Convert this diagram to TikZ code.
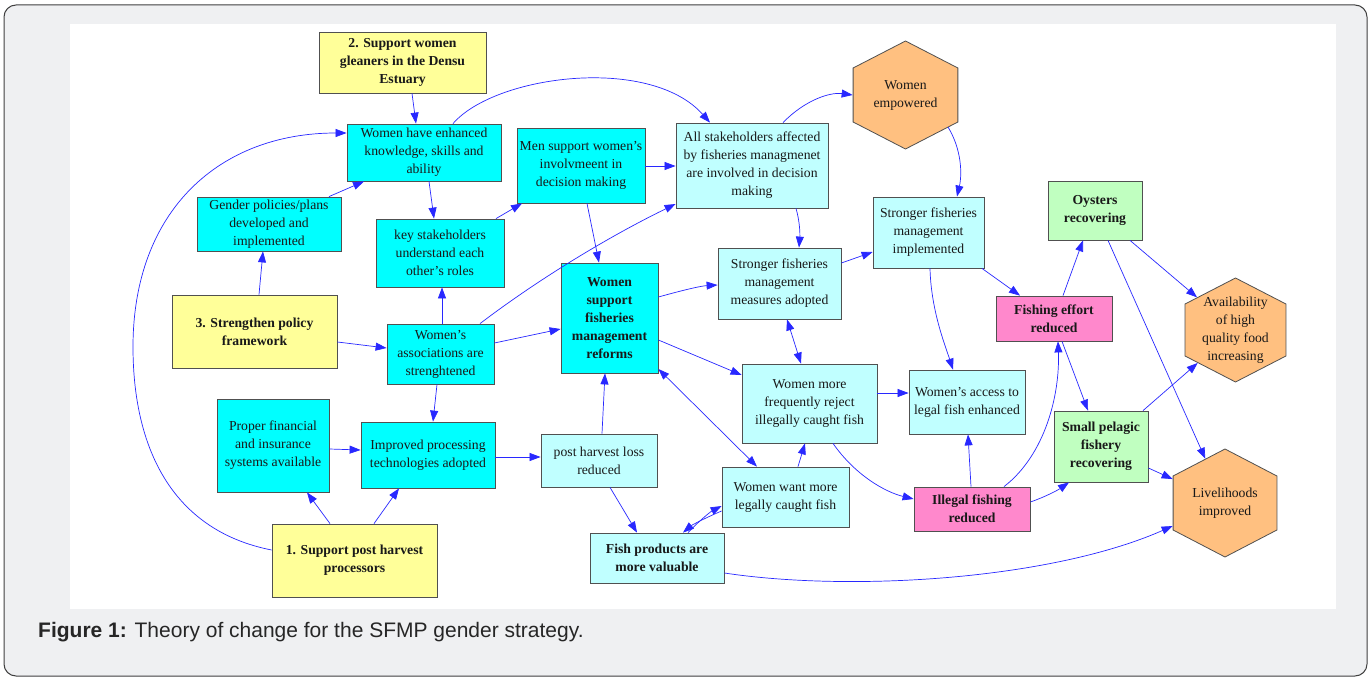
\documentclass[tikz,border=0pt]{standalone}
\usepackage{fontspec}
\setmainfont{Liberation Serif}
\newfontfamily\capfont{Liberation Sans}
\usetikzlibrary{arrows.meta,shapes.geometric,calc}
\definecolor{yel}{HTML}{FFFF99}
\definecolor{cya}{HTML}{00FFFF}
\definecolor{lcy}{HTML}{C0FFFF}
\definecolor{grn}{HTML}{C0FFC0}
\definecolor{pnk}{HTML}{FF88CC}
\definecolor{org}{HTML}{FFC080}
\definecolor{framebg}{HTML}{EFF0F2}
\definecolor{edgeblue}{HTML}{2828FF}
\definecolor{bord}{HTML}{505050}
\begin{document}
\begin{tikzpicture}[x=1pt,y=-1pt,
 bx/.style={draw=bord, line width=0.8pt, align=center, inner sep=0pt, font=\fontsize{13.7}{18}\selectfont, text=black!90},
 bb/.style={bx, font=\fontsize{13.7}{18}\selectfont\bfseries},
 sz/.style 2 args={minimum width=#1pt, minimum height=#2pt},
 hexa/.style={regular polygon, regular polygon sides=6, shape border rotate=90, draw=bord, line width=0.8pt, fill=org, inner sep=0pt, transform shape},
 hxt/.style={align=center, inner sep=0pt, font=\fontsize{13.7}{18}\selectfont, text=black!90},
 arr/.style={draw=edgeblue, line width=0.7pt, -{Triangle[length=11pt,width=8pt]}},
 darr/.style={draw=edgeblue, line width=0.7pt, {Triangle[length=11pt,width=8pt]}-{Triangle[length=11pt,width=8pt]}}]

\useasboundingbox (0,0) rectangle (1371,679);
\path[fill=framebg, draw=black!75, line width=1pt, rounded corners=12pt] (4,5) rectangle (1367,676);
\fill[white] (70,24) rectangle (1336,609);

% rectangular nodes
\node[bb, fill=yel, sz={167}{61}] (n2) at (402.5,62.5) {2. Support women\\gleaners in the Densu\\Estuary};
\node[bx, fill=cya, sz={154}{57}] (wk) at (424,152.5) {Women have enhanced\\knowledge, skills and\\ability};
\node[bx, fill=cya, sz={144}{54}] (gp) at (269,224) {Gender policies/plans\\developed and\\implemented};
\node[bx, fill=cya, sz={128}{68}] (ks) at (440,253) {key stakeholders\\understand each\\other's roles};
\node[bx, fill=cya, sz={128}{75}] (ms) at (581,165.5) {Men support women's\\involvmeent in\\decision making};
\node[bx, fill=lcy, sz={152}{85}] (as) at (752,165.5) {All stakeholders affected\\by fisheries managmenet\\are involved in decision\\making};
\node[bx, fill=lcy, sz={111}{71}] (sfi) at (928.5,232.5) {Stronger fisheries\\management\\implemented};
\node[bb, fill=grn, sz={94}{59}] (oy) at (1095,210.5) {Oysters\\recovering};
\node[bb, fill=pnk, sz={116}{45}] (fe) at (1054,318.5) {Fishing effort\\reduced};
\node[bx, fill=lcy, sz={123}{71}] (sm) at (779.5,283.5) {Stronger fisheries\\management\\measures adopted};
\node[bb, fill=cya, sz={97}{110}] (wsf) at (609.5,318) {Women\\support\\fisheries\\management\\reforms};
\node[bx, fill=cya, sz={107}{60}] (wa) at (440.5,354) {Women's\\associations are\\strenghtened};
\node[bb, fill=yel, sz={165}{73}] (s3) at (254.5,331.5) {3. Strengthen policy\\framework};
\node[bx, fill=cya, sz={112}{93}] (pf) at (273,445.5) {Proper financial\\and insurance\\systems available};
\node[bx, fill=cya, sz={134}{66}] (ip) at (428,455) {Improved processing\\technologies adopted};
\node[bb, fill=yel, sz={165}{73}] (s1) at (354.5,560.5) {1. Support post harvest\\processors};
\node[bx, fill=lcy, sz={116}{53}] (ph) at (599,460.5) {post harvest loss\\reduced};
\node[bb, fill=lcy, sz={134}{50}] (fp) at (657,558) {Fish products are\\more valuable};
\node[bx, fill=lcy, sz={127}{60}] (ww) at (785.5,497) {Women want more\\legally caught fish};
\node[bx, fill=lcy, sz={135}{79}] (wr) at (809.5,403.5) {Women more\\frequently reject\\illegally caught fish};
\node[bx, fill=lcy, sz={116}{64}] (wa2) at (967,402) {Women's access to\\legal fish enhanced};
\node[bb, fill=pnk, sz={116}{44}] (il) at (972,509) {Illegal fishing\\reduced};
\node[bb, fill=grn, sz={94}{71}] (sp) at (1101,446.5) {Small pelagic\\fishery\\recovering};

% hexagons
\coordinate (wec) at (905.5,95);
\coordinate (avc) at (1235.5,330);
\coordinate (lic) at (1225,503);
\node[hexa, minimum size=108pt, xscale=1.12] (we) at (wec) {};
\node[hexa, minimum size=104pt, xscale=1.12] (av) at (avc) {};
\node[hexa, minimum size=108pt, xscale=1.11] (li) at (lic) {};
\node[hxt] (wet) at (wec) {Women\\empowered};
\node[hxt] (avt) at (avc) {Availability\\of high\\quality food\\increasing};
\node[hxt] (lit) at (lic) {Livelihoods\\improved};

% connectors
\draw[arr] (n2.south -| 412,0) -- (wk.north -| 416,0);
\draw[arr] (gp.north -| 329,0) -- (wk.south -| 364,0);
\draw[arr] (wk.south -| 429,0) -- (ks.north -| 434,0);
\draw[arr] (ks.north -| 496,0) -- (ms.south -| 522,0);
\draw[arr] (wk.north -| 453,0) .. controls (495,75) and (650,55) .. (as.north -| 710,0);
\draw[arr] (ms.east |- 0,166) -- (as.west |- 0,166);
\draw[arr] (ms.south -| 587,0) -- (wsf.north -| 599,0);
\draw[arr] (wa.north -| 480,0) .. controls (540,278) and (610,236) .. (as.west |- 0,204);
\draw[arr] (as.north -| 783,0) .. controls (805,100) and (830,92) .. (we.west);
\draw[arr] (as.south -| 796,0) .. controls (800,222) and (800,235) .. (sm.north -| 799,0);
\draw[arr] ($(wec)+(42.5,32)$) .. controls (962,150) and (962,175) .. (sfi.north -| 957,0);
\draw[arr] (sm.east |- 0,263) -- (sfi.west |- 0,252);
\draw[arr] (sfi.south -| 982,0) -- (fe.north -| 1020,0);
\draw[arr] (fe.north -| 1063,0) -- (oy.south -| 1083,0);
\draw[arr] (oy.south -| 1130,0) -- (av);
\draw[arr] (oy.south -| 1108,0) -- (li);
\draw[arr] (sfi.south -| 930,0) .. controls (931,310) and (945,345) .. (wa2.north -| 953,0);
\draw[arr] (fe.south -| 1062,0) -- (sp.north -| 1088,0);
\draw[arr] (il.north -| 1004,0) .. controls (1045,455) and (1060,395) .. (fe.south -| 1058,0);
\draw[arr] (il.north -| 971,0) -- (wa2.south -| 968,0);
\draw[arr] (il.east |- 0,502) .. controls (1045,497) and (1058,490) .. (sp.south -| 1069,0);
\draw[arr] (sp.north -| 1143,0) -- (av);
\draw[arr] (sp.east |- 0,468) -- (li);
\draw[arr] (fp.east |- 0,573) .. controls (850,592) and (1050,580) .. (li);
\draw[arr] (wr.east |- 0,393) -- (wa2.west |- 0,393);
\draw[arr] (wr.south -| 833,0) .. controls (855,475) and (885,492) .. (il.west |- 0,499);
\draw[darr] (sm.south -| 787,0) -- (wr.north -| 801,0);
\draw[arr] (wsf.east |- 0,297) .. controls (680,291) and (700,286) .. (sm.west |- 0,285);
\draw[arr] (wsf.east |- 0,340) -- (wr.west |- 0,375);
\draw[darr] (wsf.east |- 0,369) -- (ww.north -| 757,0);
\draw[arr] (ww.north -| 798,0) -- (wr.south -| 805,0);
\draw[arr] (ww.west |- 0,511) .. controls (705,518) and (692,525) .. (fp.north -| 683,0);
\draw[arr] (fp.north -| 688,0) .. controls (698,522) and (710,512) .. (ww.west |- 0,506);
\draw[arr] (ph.north -| 602,0) -- (wsf.south -| 605,0);
\draw[arr] (ph.south -| 610,0) -- (fp.north -| 637,0);
\draw[arr] (ip.east |- 0,457) -- (ph.west |- 0,457);
\draw[arr] (pf.east |- 0,449) -- (ip.west |- 0,450);
\draw[arr] (s1.north -| 330,0) -- (pf.south -| 307,0);
\draw[arr] (s1.north -| 374,0) -- (ip.south -| 399,0);
\draw[arr] (s1.west |- 0,550) .. controls (170,530) and (133,445) .. (133,347) .. controls (133,210) and (220,133) .. (wk.west |- 0,133);
\draw[arr] (s3.north -| 259,0) -- (gp.south -| 263,0);
\draw[arr] (s3.east |- 0,342) -- (wa.west |- 0,348);
\draw[arr] (wa.north -| 442,0) -- (ks.south -| 442,0);
\draw[arr] (wa.south -| 437,0) -- (ip.north -| 433,0);
\draw[arr] (wa.east |- 0,343) -- (wsf.west |- 0,329);

% caption
\node[anchor=west, inner sep=0pt, font=\capfont\fontsize{21}{25}\selectfont, text=black!85] (cap) at (38,632) {\textbf{Figure 1:} Theory of change for the SFMP gender strategy.};
\end{tikzpicture}
\end{document}
